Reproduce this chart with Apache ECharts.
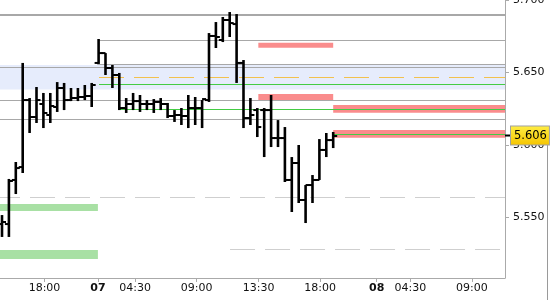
<!DOCTYPE html>
<html><head><meta charset="utf-8">
<script src="https://cdn.jsdelivr.net/npm/echarts@6/dist/echarts.min.js"></script>
<style>html,body{margin:0;padding:0;background:#fff}#c{width:550px;height:300px}</style>
</head><body><div id="c"></div>
<script>
// ---- data ----
const slots = [0,1,2,3,4,5,6,7,8,9,10,11,12,13,14,15,16,17,18,19,20,21,22,23,24,25,26,27,28,29,30,31,32,33,34,35,36,37,38,39,40,41,42,43,44,45,46,47,48];
const opens  = [5.5455,5.5455,5.5759,5.5848,5.6310,5.6193,5.6283,5.6207,5.6262,5.6393,5.6310,5.6324,5.6331,5.6338,5.6566,5.6634,5.6531,5.6483,5.6255,5.6283,5.6303,5.6283,5.6283,5.6297,5.6283,5.6200,5.6207,5.6200,5.6255,5.6255,5.6310,5.6752,5.6724,5.6862,5.6834,5.6566,5.6186,5.6241,5.6241,5.6241,5.6048,5.6048,5.5759,5.5876,5.5621,5.5724,5.5759,5.5966,5.6034];
const highs  = [5.5517,5.5766,5.5883,5.6566,5.6324,5.6400,5.6359,5.6359,5.6434,5.6428,5.6393,5.6393,5.6414,5.6428,5.6731,5.6634,5.6552,5.6497,5.6324,5.6359,5.6345,5.6310,5.6317,5.6324,5.6290,5.6241,5.6255,5.6345,5.6331,5.6310,5.6772,5.6848,5.6883,5.6917,5.6903,5.6586,5.6324,5.6255,5.6255,5.6345,5.6172,5.6124,5.5917,5.6000,5.5724,5.5793,5.6041,5.6083,5.6090];
const lows   = [5.5366,5.5366,5.5662,5.5807,5.6083,5.6152,5.6117,5.6152,5.6228,5.6241,5.6303,5.6303,5.6310,5.6262,5.6559,5.6483,5.6393,5.6241,5.6221,5.6241,5.6228,5.6241,5.6221,5.6241,5.6186,5.6159,5.6138,5.6117,5.6138,5.6117,5.6297,5.6669,5.6710,5.6745,5.6428,5.6117,5.6138,5.6055,5.5917,5.5986,5.5986,5.5745,5.5538,5.5600,5.5462,5.5600,5.5759,5.5917,5.5979];
const closes = [5.5469,5.5752,5.5841,5.6310,5.6193,5.6310,5.6221,5.6269,5.6393,5.6310,5.6324,5.6331,5.6338,5.6414,5.6634,5.6531,5.6483,5.6255,5.6283,5.6303,5.6283,5.6283,5.6297,5.6283,5.6200,5.6207,5.6200,5.6255,5.6255,5.6317,5.6752,5.6745,5.6862,5.6841,5.6566,5.6186,5.6207,5.6124,5.6241,5.6048,5.6048,5.5759,5.5876,5.5621,5.5724,5.5759,5.5966,5.6034,5.6062];

const tickSlots  = [6.16, 13.9, 19.3, 28.2, 37.2, 46.1, 54.3, 59.2, 68.1];
const tickLabels = ['18:00', '07', '04:30', '09:00', '13:30', '18:00', '08', '04:30', '09:00'];
const dayLabels  = ['07', '08'];
const yTickValues = [5.55, 5.60, 5.65, 5.70];
const lastPrice = 5.606;

const solidLevels = [5.6897, 5.6722, 5.6557, 5.6536, 5.6310, 5.6179];
const solidStarts = [null, 14.06, 13.8, null, null, null];
const greenLevels = [5.6419, 5.6248, 5.6074];
const greenStarts = [14.06, 17.0, 48.0];
const targetLevel = 5.6467;
const targetStart = 14.06;
const dashedLevels = [5.5637, 5.5281];
const dashedStarts = [null, 33.05];
const blueZone = [5.6383, 5.6552];
// [startSlot, endSlot, low, high]  (null = axis edge)
const redZones = [[37.15, 48.0, 5.6671, 5.6706], [37.15, 48.0, 5.6310, 5.6352], [48.0, null, 5.6222, 5.6276], [48.0, null, 5.6050, 5.6103]];
const greenZones = [[null, 13.9, 5.5545, 5.5593], [null, 13.9, 5.5214, 5.5276]];

// ---- chart ----
const X_MIN = -0.29, X_MAX = 72.9, Y_MIN = 5.5083, Y_MAX = 5.700;
const FONT = 'DejaVu Sans';
const sx = v => v === null ? X_MIN : v;
const ex = v => v === null ? X_MAX : v;

function seg(x1, x2, v, style) {
  return [{coord: [x1, v], lineStyle: style}, {coord: [x2, v]}];
}
const lineData = [];
solidLevels.forEach((v, i) => lineData.push(seg(sx(solidStarts[i]), X_MAX, v,
  {color: '#a8a8a8', width: i === 0 ? 2 : 1, type: 'solid'})));
greenLevels.forEach((v, i) => lineData.push(seg(greenStarts[i], X_MAX, v,
  {color: '#44cc44', width: 1, type: 'solid'})));
lineData.push(seg(targetStart, X_MAX, targetLevel, {color: '#f2c14e', width: 1, type: [25, 10]}));
dashedLevels.forEach((v, i) => lineData.push(seg(sx(dashedStarts[i]), X_MAX, v,
  {color: '#cfcfcf', width: 1, type: [25, 10], dashOffset: dashedStarts[i] === null ? 5 : 0})));

const areaData = [];
areaData.push([{xAxis: X_MIN, yAxis: blueZone[1], itemStyle: {color: '#e6ecfc'}}, {xAxis: X_MAX, yAxis: blueZone[0]}]);
redZones.forEach(z => areaData.push([{xAxis: sx(z[0]), yAxis: z[3], itemStyle: {color: '#fa8c8c'}}, {xAxis: ex(z[1]), yAxis: z[2]}]));
greenZones.forEach(z => areaData.push([{xAxis: sx(z[0]), yAxis: z[3], itemStyle: {color: '#a8e0a4'}}, {xAxis: ex(z[1]), yAxis: z[2]}]));

const ohlc = slots.map((s, i) => [s, opens[i], highs[i], lows[i], closes[i]]);

function renderOHLC(params, api) {
  const x = api.value(0);
  const o = api.coord([x, api.value(1)]);
  const h = api.coord([x, api.value(2)]);
  const l = api.coord([x, api.value(3)]);
  const c = api.coord([x, api.value(4)]);
  return {type: 'group', children: [
    {type: 'line', shape: {x1: h[0], y1: h[1], x2: l[0], y2: l[1]}, style: {stroke: '#000', lineWidth: 2.6}},
    {type: 'line', shape: {x1: o[0] - 4, y1: o[1], x2: o[0], y2: o[1]}, style: {stroke: '#000', lineWidth: 2}},
    {type: 'line', shape: {x1: c[0], y1: c[1], x2: c[0] + 4, y2: c[1]}, style: {stroke: '#000', lineWidth: 2}}
  ]};
}

const chart = echarts.init(document.getElementById('c'), null, {renderer: 'canvas'});
chart.setOption({
  animation: false,
  backgroundColor: '#fff',
  textStyle: {fontFamily: FONT},
  grid: {left: 0, right: 45, top: 0, bottom: 22, containLabel: false, outerBoundsMode: 'none'},
  graphic: [{
    type: 'line', silent: true, z: 0,
    shape: {x1: 547.5, y1: 144, x2: 547.5, y2: 300},
    style: {stroke: '#9a9a9a', lineWidth: 1}
  }],
  xAxis: {
    type: 'value', min: X_MIN, max: X_MAX,
    axisLine: {show: true, onZero: false, lineStyle: {color: '#aaaaaa', width: 1}},
    axisTick: {show: true, length: 4, lineStyle: {color: '#aaaaaa'}, customValues: tickSlots},
    axisLabel: {
      show: true, margin: 5, fontSize: 11, color: '#111', fontFamily: FONT,
      customValues: tickSlots,
      formatter: v => {
        const i = tickSlots.findIndex(t => Math.abs(t - v) < 1e-6);
        const s = i >= 0 ? tickLabels[i] : '';
        return dayLabels.includes(s) ? '{b|' + s + '}' : s;
      },
      rich: {b: {fontWeight: 'bold', fontSize: 11, color: '#111', fontFamily: FONT}}
    },
    splitLine: {show: false}
  },
  yAxis: {
    type: 'value', position: 'right', min: Y_MIN, max: Y_MAX, scale: true,
    axisLine: {show: true, onZero: false, lineStyle: {color: '#aaaaaa', width: 1}},
    axisTick: {show: true, inside: false, length: 4, lineStyle: {color: '#aaaaaa'}, customValues: yTickValues},
    axisLabel: {show: true, margin: 8, fontSize: 11, color: '#111', fontFamily: FONT,
      customValues: yTickValues, formatter: v => v.toFixed(3)},
    splitLine: {show: false}
  },
  series: [
    {
      type: 'line', data: [], z: 1, silent: true,
      markArea: {silent: true, z: 1, data: areaData},
      markLine: {
        silent: true, z: 3, symbol: ['none', 'none'], label: {show: false},
        data: lineData.concat([{
          yAxis: lastPrice,
          lineStyle: {color: 'rgba(0,0,0,0)', width: 1},
          label: {
            show: true, position: 'end', distance: 0, offset: [0, 5],
            verticalAlign: 'middle', align: 'left',
            formatter: '{t|}{v|' + lastPrice.toFixed(3) + '}',
            rich: {
              t: {width: 6, height: 2, backgroundColor: '#000', verticalAlign: 'middle'},
              v: {
                fontSize: 11.5, fontFamily: FONT, color: '#000', lineHeight: 14,
                verticalAlign: 'middle',
                padding: [3, 2, 3, 3], borderColor: '#a0a0a0', borderWidth: 1,
                backgroundColor: new echarts.graphic.LinearGradient(0, 0, 0, 1, [
                  {offset: 0, color: '#ffee44'}, {offset: 1, color: '#f5c400'}])
              }
            }
          }
        }])
      }
    },
    {
      type: 'custom', z: 5, renderItem: renderOHLC, data: ohlc,
      encode: {x: 0, y: [1, 2, 3, 4]}, clip: true
    }
  ]
});
</script></body></html>
